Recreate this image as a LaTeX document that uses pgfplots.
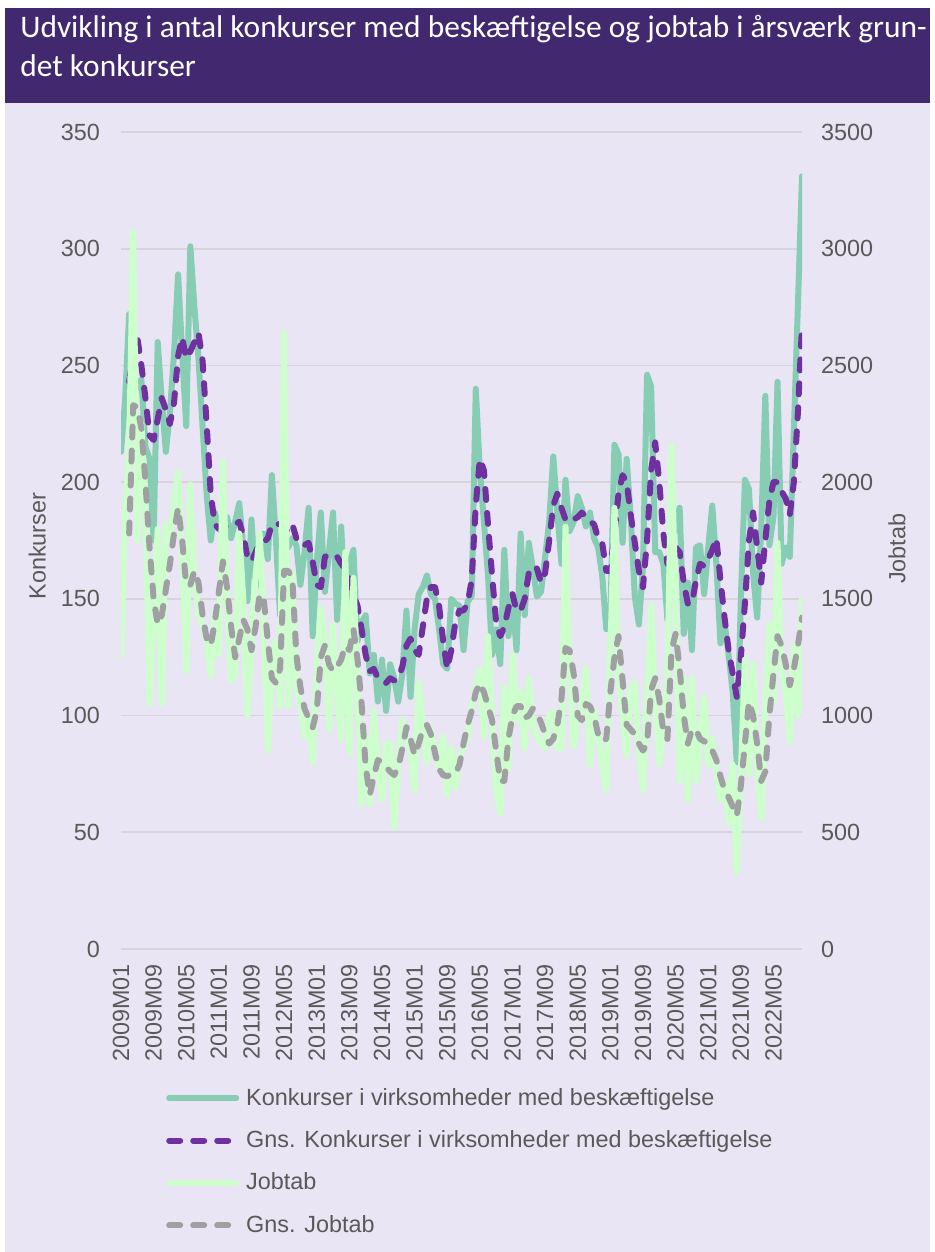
\documentclass[border=0pt]{standalone}
\usepackage{pgfplots}
\pgfplotsset{compat=1.18}
\usepackage{pgfplotstable}
\usepackage{fontspec}
\setmainfont{Liberation Sans}
\newfontfamily\titlefont{Carlito}
\definecolor{bgl}{RGB}{233,229,244}
\definecolor{titlebg}{RGB}{66,40,110}
\definecolor{gridc}{RGB}{216,212,220}
\definecolor{kteal}{RGB}{134,205,179}
\definecolor{kpurple}{RGB}{112,48,160}
\definecolor{jgreen}{RGB}{204,255,204}
\definecolor{jgray}{RGB}{160,160,164}
\definecolor{txtgray}{RGB}{89,89,89}
\pgfplotstableread{
i kon gkon job gjob
0 213 nan 1255 nan
1 235 nan 1850 nan
2 272 243 2150 1780
3 245 256 3075 2330
4 240 262 1750 2320
5 244 250 2250 2230
6 215 236 1900 2000
7 210 220 1050 1720
8 175 218 1400 1500
9 260 227 1800 1390
10 235 236 1050 1430
11 213 231 1820 1540
12 230 225 1750 1650
13 255 234 1920 1780
14 289 254 2040 1890
15 255 262 1700 1750
16 224 253 1190 1560
17 301 256 1990 1560
18 275 260 1600 1620
19 253 264 1430 1570
20 224 252 1390 1430
21 195 225 1320 1330
22 175 195 1170 1300
23 187 182 1450 1400
24 180 180 1260 1530
25 178 181 2090 1660
26 185 181 1500 1550
27 176 181 1150 1380
28 183 182 1180 1250
29 191 183 1780 1330
30 172 177 1500 1410
31 149 168 1000 1370
32 184 166 1300 1280
33 155 170 1600 1380
34 177 174 1780 1520
35 178 174 1400 1500
36 167 176 850 1320
37 203 182 1200 1160
38 175 182 1320 1140
39 143 182 1040 1200
40 179 180 2640 1620
41 172 179 1040 1620
42 176 182 1610 1590
43 173 176 1120 1260
44 156 173 1050 1120
45 170 173 910 1030
46 189 174 1000 990
47 134 166 800 950
48 165 156 1200 1020
49 187 155 1460 1250
50 153 168 1320 1300
51 170 169 940 1220
52 187 168 1390 1190
53 141 168 1100 1210
54 181 165 900 1240
55 143 163 1700 1300
56 165 158 840 1280
57 171 152 1590 1370
58 132 147 1120 1240
59 140 137 620 1050
60 143 126 910 780
61 118 119 620 660
62 126 120 1020 740
63 106 116 780 810
64 124 115 640 800
65 102 114 880 780
66 122 116 880 760
67 116 115 520 745
68 106 116 820 780
69 118 121 980 860
70 145 130 910 950
71 108 133 850 900
72 137 128 680 830
73 152 126 1140 880
74 155 138 960 940
75 160 150 800 960
76 152 155 940 920
77 150 155 850 840
78 137 147 770 770
79 122 132 910 745
80 120 120 660 740
81 150 128 860 750
82 148 140 690 750
83 147 145 820 790
84 128 145 860 880
85 149 148 910 960
86 151 158 1040 1020
87 240 190 1120 1100
88 205 210 1200 1140
89 183 205 910 1100
90 160 182 1340 1040
91 126 160 1000 980
92 137 140 680 850
93 122 134 580 720
94 171 138 1120 720
95 134 146 770 900
96 150 152 1260 1000
97 128 145 980 1040
98 178 145 1100 1040
99 143 150 860 990
100 174 161 1160 1000
101 163 164 960 1030
102 151 163 910 1010
103 153 157 880 970
104 168 161 860 920
105 183 175 1000 880
106 211 190 1020 900
107 187 195 860 960
108 165 189 860 1070
109 201 184 1810 1290
110 179 183 1220 1280
111 183 184 870 1180
112 194 185 1000 1000
113 189 187 1040 980
114 181 185 1200 1050
115 187 183 790 1040
116 176 182 1020 1000
117 172 176 910 920
118 160 174 800 890
119 137 162 680 900
120 141 162 1270 1100
121 216 178 1890 1250
122 212 195 1160 1340
123 174 203 1000 1150
124 210 200 830 960
125 185 186 1120 940
126 151 174 1140 920
127 139 162 850 880
128 164 155 680 850
129 246 175 1060 880
130 241 205 1470 1110
131 170 217 1060 1160
132 170 200 790 1070
133 165 178 950 930
134 141 165 1160 900
135 172 166 2160 1280
136 182 172 1470 1350
137 189 170 720 1200
138 135 157 1160 1000
139 157 148 640 880
140 128 148 1160 940
141 172 158 720 940
142 173 165 890 900
143 152 164 1080 890
144 172 167 790 880
145 190 171 900 850
146 165 176 750 810
147 131 158 640 740
148 140 142 720 680
149 126 128 540 650
150 110 118 790 610
151 80 108 330 570
152 150 125 750 700
153 201 148 1240 880
154 197 175 750 1060
155 161 187 1220 1000
156 142 172 790 880
157 180 157 560 720
158 237 175 1020 760
159 173 192 1390 1000
160 185 200 1060 1180
161 243 200 1740 1340
162 165 196 1200 1300
163 172 193 1100 1220
164 168 186 890 1130
165 222 200 1300 1200
166 276 230 1000 1300
167 331 267 1500 1420
}\data
\pgfplotsset{
  base/.style={
    at={(60.5pt,151.5pt)}, anchor=south west,
    scale only axis, width=340.5pt, height=408.5pt,
    xmin=0, xmax=167,
    axis line style={draw=none}, major tick length=0pt,
    tick label style={font=\fontsize{11.7}{14}\selectfont, text=txtgray},
    label style={font=\fontsize{11.7}{14}\selectfont, text=txtgray},
    /pgf/number format/assume math mode=true,
    /pgf/number format/1000 sep={},
  },
  solidl/.style={line width=3pt, line cap=round, line join=round},
  dashl/.style={line width=3pt, line cap=round, line join=round, dash pattern=on 5.5pt off 6.5pt},
}
\begin{document}
\begin{tikzpicture}
\useasboundingbox (0,0) rectangle (467pt,626pt);
\fill[white] (0,0) rectangle (467pt,626pt);
\fill[bgl] (2.5pt,0) rectangle (465pt,574.5pt);
\fill[titlebg] (2.5pt,574.5pt) rectangle (465pt,622pt);
\node[anchor=base west, text=white, font=\titlefont\fontsize{15.7}{18}\selectfont, inner sep=0pt] at (10pt,607pt) {Udvikling i antal konkurser med beskæftigelse og jobtab i årsværk grun-};
\node[anchor=base west, text=white, font=\titlefont\fontsize{15.7}{18}\selectfont, inner sep=0pt] at (10pt,587.5pt) {det konkurser};
\begin{axis}[base,
  ymin=0, ymax=350, ytick={0,50,...,350},
  ymajorgrids, grid style={gridc, line width=0.9pt},
  xtick={0,8,...,160},
  xticklabels={2009M01,2009M09,2010M05,2011M01,2011M09,2012M05,2013M01,2013M09,2014M05,2015M01,2015M09,2016M05,2017M01,2017M09,2018M05,2019M01,2019M09,2020M05,2021M01,2021M09,2022M05},
  xticklabel style={rotate=90, anchor=east},
  xticklabel shift=4pt,
  yticklabel shift=7pt,
  ylabel={Konkurser},
  ylabel style={at={(axis description cs:-0.123,0.493)}, anchor=center},
]
\addplot[kteal, solidl] table[x=i,y=kon]{\data};
\addplot[kpurple, dashl] table[x=i,y=gkon]{\data};
\end{axis}
\begin{axis}[base,
  ymin=0, ymax=3500, ytick={0,500,...,3500},
  axis x line=none, axis y line*=right,
  yticklabel shift=6pt,
  ylabel={Jobtab},
  ylabel style={at={(axis description cs:1.1395,0.49)}, anchor=center},
  legend cell align=left,
  legend style={at={(axis description cs:0.057,-0.16)}, anchor=north west, draw=none, fill=none, font=\fontsize{11.7}{14}\selectfont, text=txtgray, row sep=7.25pt},
  legend image code/.code={\draw[#1] (0pt,0pt) -- (33.5pt,0pt); \path (35pt,0pt);},
]
\addlegendimage{kteal, solidl}
\addlegendentry{Konkurser i virksomheder med beskæftigelse}
\addlegendimage{kpurple, dashl}
\addlegendentry{Gns. Konkurser i virksomheder med beskæftigelse}
\addplot[jgreen, solidl] table[x=i,y=job]{\data};
\addlegendentry{Jobtab}
\addplot[jgray, dashl] table[x=i,y=gjob]{\data};
\addlegendentry{Gns. Jobtab}
\end{axis}
\end{tikzpicture}
\end{document}
